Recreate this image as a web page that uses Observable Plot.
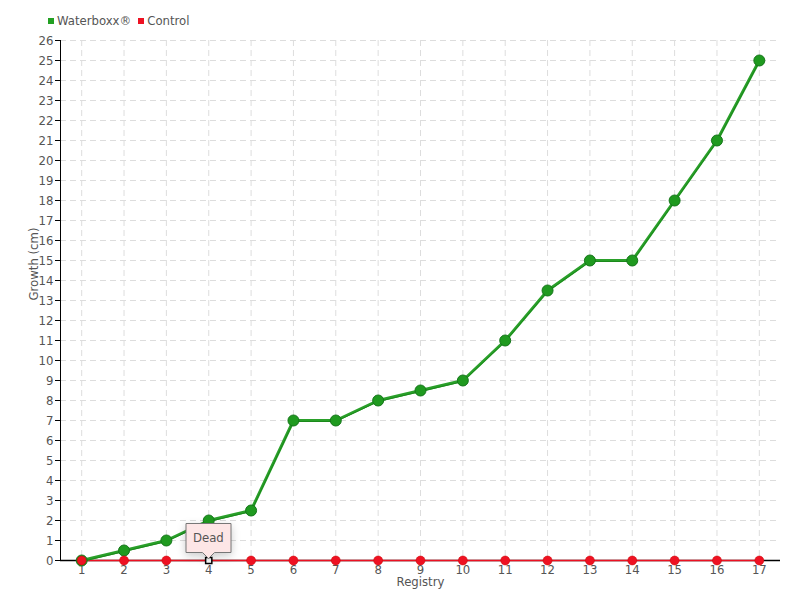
<!DOCTYPE html>
<html><head><meta charset="utf-8">
<script src="https://cdn.jsdelivr.net/npm/d3@7"></script>
<script src="https://cdn.jsdelivr.net/npm/@observablehq/plot@0.6"></script>
<style>
body{margin:0;background:#fff;font-family:"DejaVu Sans Condensed","DejaVu Sans",sans-serif;font-stretch:condensed;}
#wrap{position:relative;width:800px;height:600px;}
#legend{position:absolute;left:48px;top:13px;font-size:13px;color:#555;display:flex;align-items:center;}
#legend .sw{display:inline-block;width:6px;height:6px;margin-right:3px;}
#legend span.item{display:flex;align-items:center;margin-right:7px;}
svg text{font-stretch:condensed;}
</style></head>
<body><div id="wrap"><div id="legend"></div></div>
<script>
const registry = [1,2,3,4,5,6,7,8,9,10,11,12,13,14,15,16,17];
const waterboxx = [0,0.5,1,2,2.5,7,7,8,8.5,9,11,13.5,15,15,18,21,25];
const control = [0,0,0,0,0,0,0,0,0,0,0,0,0,0,0,0,0];
const seriesNames = ["Waterboxx®","Control"];
const seriesColors = ["#22a022","#ee1122"];
const annotations = [{x:4, y:0, label:"Dead"}];
const yTicks = d3.range(0,27);

const green = registry.map((r,i)=>({x:r,y:waterboxx[i]}));
const red = registry.map((r,i)=>({x:r,y:control[i]}));

const legend = document.getElementById("legend");
seriesNames.forEach((n,i)=>{
  const s=document.createElement("span");s.className="item";
  s.innerHTML=`<span class="sw" style="background:${seriesColors[i]}"></span>${n}`;
  legend.appendChild(s);
});

const plot = Plot.plot({
  width:800, height:600,
  marginTop:40, marginBottom:40, marginLeft:60, marginRight:20,
  style:{fontFamily:"'DejaVu Sans Condensed','DejaVu Sans',sans-serif", fontSize:"13px", color:"#555"},
  x:{type:"point", domain:registry, padding:0.5, round:false, label:null},
  y:{domain:[0,26], label:null},
  marks:[
    Plot.gridX(registry,{stroke:"#ddd", strokeOpacity:1, strokeDasharray:"6,4"}),
    Plot.gridY(yTicks,{stroke:"#ddd", strokeOpacity:1, strokeDasharray:"6,4"}),
    Plot.axisY(yTicks,{tickSize:5, tickPadding:2, stroke:"#000", fill:"#555", fontSize:13, label:null}),
    Plot.axisX(registry,{tickSize:4, tickPadding:0, stroke:"#000", fill:"#555", fontSize:13, label:null}),
    Plot.frame({anchor:"left", stroke:"#000"}),
    Plot.ruleY([0],{stroke:"#000", strokeWidth:1.5}),
    Plot.line(red,{x:"x",y:"y",stroke:seriesColors[1],strokeWidth:1.5}),
    Plot.line(green,{x:"x",y:"y",stroke:"#2aa02a",strokeWidth:3}),
    Plot.line(green,{x:"x",y:"y",stroke:"#1b8a1b",strokeWidth:1,dy:1}),
    Plot.dot(green,{x:"x",y:"y",r:5.5,fill:"#1f9a1f",stroke:"#15751a",strokeWidth:1}),
    Plot.dot(red.filter(d=>d.x!==4),{x:"x",y:"y",r:4.5,fill:seriesColors[1],stroke:"#c00",strokeWidth:0.5}),
    Plot.dot(annotations,{x:"x",y:"y",symbol:"square",r:3.5,fill:"#fff",stroke:"#000",strokeWidth:1.5}),
    Plot.tip(annotations,{x:"x",y:"y",title:"label",anchor:"bottom",dy:-2,fill:"#fde6e6",stroke:"#777",fontSize:13,textPadding:7}),
    Plot.text(["Growth (cm)"],{frameAnchor:"left",dx:-27,rotate:-90,fontSize:13,fill:"#555"}),
    Plot.text(["Registry"],{frameAnchor:"bottom",dy:25,fontSize:13,fill:"#555"})
  ]
});
document.getElementById("wrap").appendChild(plot);
</script></body></html>
